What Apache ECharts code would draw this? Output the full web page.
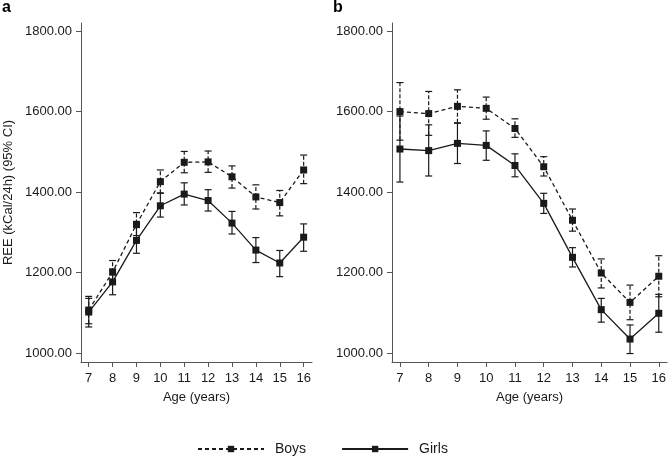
<!DOCTYPE html>
<html>
<head>
<meta charset="utf-8">
<script src="https://cdn.jsdelivr.net/npm/echarts@6/dist/echarts.min.js"></script>
<style>
html,body{margin:0;padding:0;background:#fff;}
#chart{width:669px;height:457px;}
</style>
</head>
<body>
<div id="chart"></div>
<script>
const ages = [7, 8, 9, 10, 11, 12, 13, 14, 15, 16];
const yTicks = [1000, 1200, 1400, 1600, 1800];

// Panel a
const boysA    = [1107, 1201, 1320, 1426, 1474, 1475, 1438, 1388, 1374, 1455];
const boysALo  = [1073, 1171, 1292, 1397, 1448, 1449, 1410, 1358, 1341, 1421];
const boysAHi  = [1141, 1230, 1349, 1455, 1501, 1502, 1465, 1418, 1404, 1492];
const girlsA   = [1102, 1177, 1280, 1366, 1395, 1379, 1323, 1256, 1224, 1288];
const girlsALo = [1065, 1145, 1248, 1338, 1368, 1353, 1296, 1225, 1190, 1253];
const girlsAHi = [1136, 1209, 1312, 1398, 1423, 1406, 1352, 1287, 1255, 1321];

// Panel b
const boysB    = [1600, 1595, 1613, 1608, 1558, 1463, 1330, 1199, 1126, 1191];
const boysBLo  = [1529, 1541, 1572, 1581, 1536, 1440, 1303, 1162, 1083, 1140];
const boysBHi  = [1672, 1650, 1654, 1636, 1582, 1488, 1358, 1234, 1169, 1242];
const girlsB   = [1507, 1503, 1521, 1516, 1466, 1372, 1238, 1108, 1035, 1099];
const girlsBLo = [1425, 1440, 1471, 1479, 1438, 1347, 1214, 1077, 999, 1052];
const girlsBHi = [1589, 1567, 1571, 1552, 1495, 1397, 1262, 1136, 1070, 1146];

const FONT = 'Liberation Sans, Arial, sans-serif';
const INK = '#1a1a1a';

function pts(vals) { return ages.map((a, i) => [a, vals[i]]); }
function bars(lo, hi) { return ages.map((a, i) => [a, lo[i], hi[i]]); }

function errSeries(name, lo, hi, idx, dashed) {
  return {
    type: 'custom', name: name, xAxisIndex: idx, yAxisIndex: idx, z: 2,
    data: bars(lo, hi),
    renderItem: function (params, api) {
      const x = api.value(0);
      const p1 = api.coord([x, api.value(1)]);
      const p2 = api.coord([x, api.value(2)]);
      const st = { stroke: INK, lineWidth: 1.2, lineDash: dashed ? [4, 2] : null };
      const w = 3.5;
      return {
        type: 'group',
        children: [
          { type: 'line', shape: { x1: p1[0], y1: p1[1], x2: p2[0], y2: p2[1] }, style: st },
          { type: 'line', shape: { x1: p1[0] - w, y1: p1[1], x2: p1[0] + w, y2: p1[1] }, style: { stroke: INK, lineWidth: 1.2 } },
          { type: 'line', shape: { x1: p2[0] - w, y1: p2[1], x2: p2[0] + w, y2: p2[1] }, style: { stroke: INK, lineWidth: 1.2 } }
        ]
      };
    }
  };
}

function lineSeries(name, vals, idx, dashed) {
  return {
    type: 'line', name: name, xAxisIndex: idx, yAxisIndex: idx, z: 3,
    data: pts(vals),
    symbol: 'rect', symbolSize: 7,
    itemStyle: { color: INK },
    lineStyle: { color: INK, width: 1.3, type: dashed ? [4, 3] : 'solid' },
    animation: false
  };
}

function xAxis(idx, min, max) {
  return {
    type: 'value', gridIndex: idx, min: min, max: max,
    name: 'Age (years)', nameLocation: 'middle', nameGap: 29,
    nameTextStyle: { fontFamily: FONT, fontSize: 13, color: INK },
    axisLine: { show: true, lineStyle: { color: '#555', width: 1 } },
    axisTick: { show: true, length: 5, customValues: ages, lineStyle: { color: '#555' } },
    axisLabel: { customValues: ages, margin: 10, fontFamily: FONT, fontSize: 13, color: INK },
    splitLine: { show: false }
  };
}

function yAxis(idx, withName) {
  const ax = {
    type: 'value', gridIndex: idx, min: 978, max: 1820,
    axisLine: { show: true, lineStyle: { color: '#555', width: 1 } },
    axisTick: { show: true, length: 5, customValues: yTicks, lineStyle: { color: '#555' } },
    axisLabel: { customValues: yTicks, margin: 9, fontFamily: FONT, fontSize: 13, color: INK,
                 formatter: v => v.toFixed(2) },
    splitLine: { show: false }
  };
  if (withName) {
    ax.name = 'REE (kCal/24h) (95% CI)';
    ax.nameLocation = 'middle';
    ax.nameGap = 66;
    ax.nameTextStyle = { fontFamily: FONT, fontSize: 13, color: INK };
  }
  return ax;
}

const chart = echarts.init(document.getElementById('chart'), null, { renderer: 'canvas' });
chart.setOption({
  animation: false,
  backgroundColor: '#fff',
  grid: [
    { left: 81, top: 23, width: 231, height: 339 },
    { left: 392, top: 23, width: 277, height: 339 }
  ],
  xAxis: [xAxis(0, 6.677, 16.35), xAxis(1, 6.724, 16.29)],
  yAxis: [yAxis(0, true), yAxis(1, false)],
  legend: {
    data: ['Boys', 'Girls'],
    left: 197, top: 442, padding: 0,
    itemWidth: 66, itemHeight: 8, itemGap: 35,
    textStyle: { fontFamily: FONT, fontSize: 14, color: INK, padding: [0, 0, 0, 6] }
  },
  graphic: [
    { type: 'text', left: 2, top: 0, style: { text: 'a', font: 'bold 16px ' + FONT, fill: '#000' } },
    { type: 'text', left: 333, top: 0, style: { text: 'b', font: 'bold 16px ' + FONT, fill: '#000' } }
  ],
  series: [
    errSeries('BoysErrA', boysALo, boysAHi, 0, true),
    errSeries('GirlsErrA', girlsALo, girlsAHi, 0, false),
    lineSeries('Boys', boysA, 0, true),
    lineSeries('Girls', girlsA, 0, false),
    errSeries('BoysErrB', boysBLo, boysBHi, 1, true),
    errSeries('GirlsErrB', girlsBLo, girlsBHi, 1, false),
    lineSeries('Boys', boysB, 1, true),
    lineSeries('Girls', girlsB, 1, false)
  ]
});
</script>
</body>
</html>
